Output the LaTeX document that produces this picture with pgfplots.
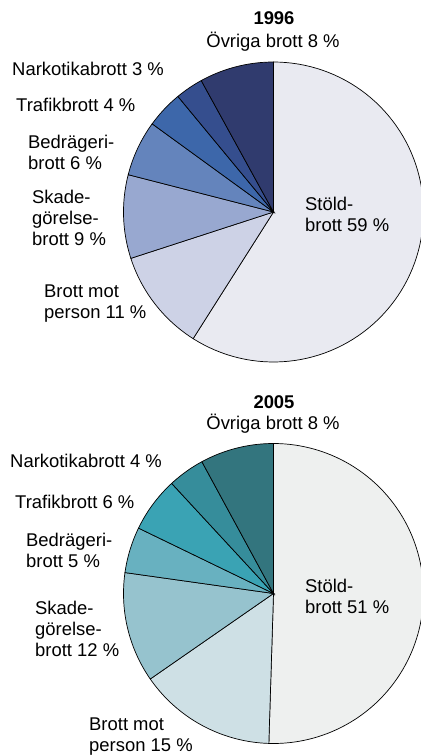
\documentclass[border=0pt]{standalone}
\usepackage{pgfplots}
\pgfplotsset{compat=1.18}
\usepackage{fontspec}
\setmainfont{Liberation Sans}

% 1996 colours
\definecolor{a1}{HTML}{E9EAF1}
\definecolor{a2}{HTML}{CDD2E6}
\definecolor{a3}{HTML}{98A8D0}
\definecolor{a4}{HTML}{6484BC}
\definecolor{a5}{HTML}{3D67AA}
\definecolor{a6}{HTML}{354E8E}
\definecolor{a7}{HTML}{303B6E}
% 2005 colours
\definecolor{b1}{HTML}{EEF0EF}
\definecolor{b2}{HTML}{CEE0E5}
\definecolor{b3}{HTML}{96C3CE}
\definecolor{b4}{HTML}{68B1C0}
\definecolor{b5}{HTML}{3AA3B4}
\definecolor{b6}{HTML}{368D9B}
\definecolor{b7}{HTML}{33757E}

\tikzset{lab/.style={font=\fontsize{18.5}{21}\selectfont, inner sep=0pt, align=left}}

% slice: centre x, centre y, cumulative start %, cumulative end %, colour, total %
\newcommand\pieslice[6]{%
  \addplot[fill=#5, draw=black, line width=0.7bp, variable=\t, samples=90,
    domain={90-360*#4/#6}:{90-360*#3/#6}]
    ({#1+150*cos(\t)},{#2-150*sin(\t)}) -- (axis cs:#1,#2) -- cycle;}

\begin{document}
\begin{tikzpicture}
\begin{axis}[
  width=421bp, height=756bp, scale only axis,
  xmin=0, xmax=421, ymin=0, ymax=756, y dir=reverse,
  hide axis, clip=true
]
% 1996: Stöld 59, person 11, skade 9, bedrägeri 6, trafik 4, narkotika 3, övriga 8
\pieslice{273.5}{212}{0}{59}{a1}{100}
\pieslice{273.5}{212}{59}{70}{a2}{100}
\pieslice{273.5}{212}{70}{79}{a3}{100}
\pieslice{273.5}{212}{79}{85}{a4}{100}
\pieslice{273.5}{212}{85}{89}{a5}{100}
\pieslice{273.5}{212}{89}{92}{a6}{100}
\pieslice{273.5}{212}{92}{100}{a7}{100}
% 2005: Stöld 51, person 15, skade 12, bedrägeri 5, trafik 6, narkotika 4, övriga 8
\pieslice{273.5}{593.5}{0}{51}{b1}{101}
\pieslice{273.5}{593.5}{51}{66}{b2}{101}
\pieslice{273.5}{593.5}{66}{78}{b3}{101}
\pieslice{273.5}{593.5}{78}{83}{b4}{101}
\pieslice{273.5}{593.5}{83}{89}{b5}{101}
\pieslice{273.5}{593.5}{89}{93}{b6}{101}
\pieslice{273.5}{593.5}{93}{101}{b7}{101}

% labels 1996 (base anchor = baseline of last line)
\node[lab, anchor=base] at (axis cs:274,25) {\bfseries 1996};
\node[lab, anchor=base] at (axis cs:273,48) {Övriga brott 8 \%};
\node[lab, anchor=base west] at (axis cs:12,76) {Narkotikabrott 3 \%};
\node[lab, anchor=base west] at (axis cs:16,111.7) {Trafikbrott 4 \%};
\node[lab, anchor=base west] at (axis cs:28,169.5) {Bedrägeri-\\brott 6 \%};
\node[lab, anchor=base west] at (axis cs:32,245) {Skade-\\görelse-\\brott 9 \%};
\node[lab, anchor=base west] at (axis cs:305,231) {Stöld-\\brott 59 \%};
\node[lab, anchor=base west] at (axis cs:44,318.5) {Brott mot\\person 11 \%};
% labels 2005
\node[lab, anchor=base] at (axis cs:274,408) {\bfseries 2005};
\node[lab, anchor=base] at (axis cs:273,429.5) {Övriga brott 8 \%};
\node[lab, anchor=base west] at (axis cs:10,467.7) {Narkotikabrott 4 \%};
\node[lab, anchor=base west] at (axis cs:15,508.3) {Trafikbrott 6 \%};
\node[lab, anchor=base west] at (axis cs:26,567.5) {Bedrägeri-\\brott 5 \%};
\node[lab, anchor=base west] at (axis cs:35,656.5) {Skade-\\görelse-\\brott 12 \%};
\node[lab, anchor=base west] at (axis cs:305,613.5) {Stöld-\\brott 51 \%};
\node[lab, anchor=base west] at (axis cs:89,751) {Brott mot\\person 15 \%};
\end{axis}
\pgfresetboundingbox
\useasboundingbox (current axis.south west) rectangle (current axis.north east);
\end{tikzpicture}
\end{document}
